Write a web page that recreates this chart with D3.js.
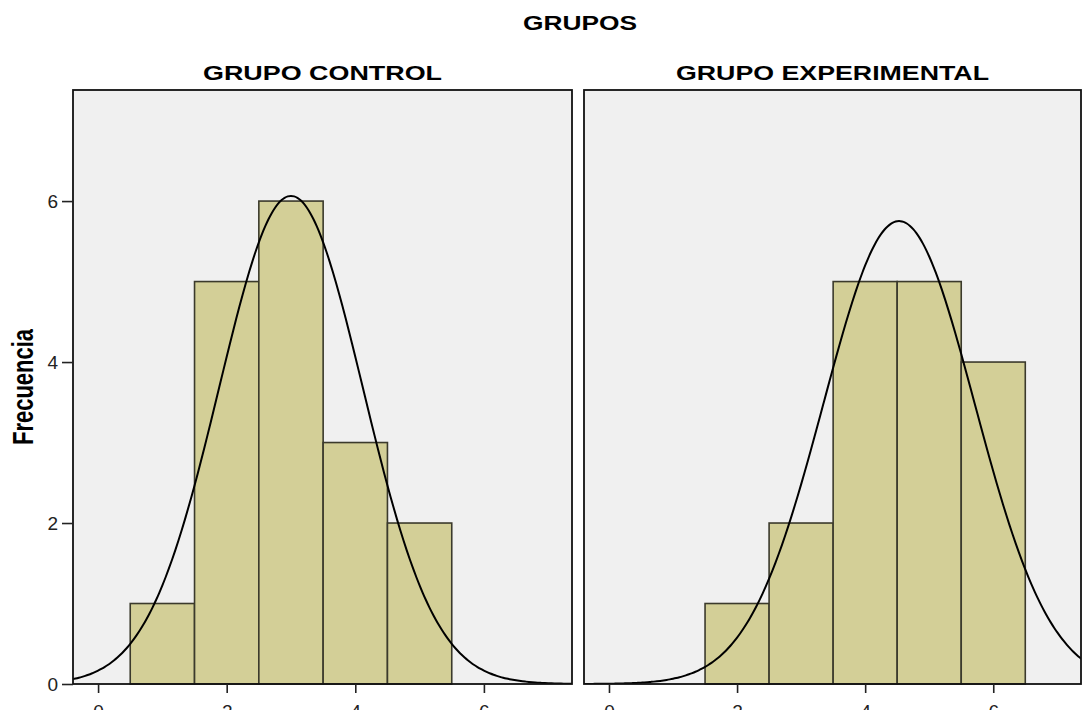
<!DOCTYPE html>
<html>
<head>
<meta charset="utf-8">
<script src="https://cdn.jsdelivr.net/npm/d3@7"></script>
<style>
  body { margin: 0; background: #fff; }
  text { font-family: "Liberation Sans", Arial, sans-serif; }
</style>
</head>
<body>
<div id="chart"></div>
<script>
// histogram data (bin centre -> frequency)
let groupNames = ["GRUPO CONTROL", "GRUPO EXPERIMENTAL"];
let controlBins = [1, 2, 3, 4, 5];
let controlCounts = [1, 5, 6, 3, 2];
let experimentalBins = [2, 3, 4, 5, 6];
let experimentalCounts = [1, 2, 5, 5, 4];
let xTicks = [0, 2, 4, 6];
let yTicks = [0, 2, 4, 6];

let width = 1082, height = 710;

let panels = [
  { name: groupNames[0], bins: controlBins, counts: controlCounts, left: 73, right: 572 },
  { name: groupNames[1], bins: experimentalBins, counts: experimentalCounts, left: 584, right: 1081 }
];

let plotTop = 90, plotBottom = 684;

let svg = d3.select("#chart")
  .append("svg")
  .attr("width", width)
  .attr("height", height);

let y = d3.scaleLinear()
  .domain([0, 7.38])
  .range([plotBottom, plotTop]);

svg.append("text")
  .attr("x", 580)
  .attr("y", 30)
  .attr("text-anchor", "middle")
  .attr("textLength", 114)
  .attr("lengthAdjust", "spacingAndGlyphs")
  .style("font-size", "21px")
  .style("font-weight", "bold")
  .text("GRUPOS");

// y label, stretched like the rest of the picture
svg.append("text")
  .attr("transform", "translate(33," + ((plotTop + plotBottom) / 2) + ") scale(1.3,1) rotate(-90)")
  .attr("text-anchor", "middle")
  .style("font-size", "22px")
  .style("font-weight", "bold")
  .text("Frecuencia");

panels.forEach(function(p, i) {
  let x = d3.scaleLinear()
    .domain([-0.39, 7.37])
    .range([p.left, p.right]);

  let g = svg.append("g");

  g.append("rect")
    .attr("x", p.left)
    .attr("y", plotTop)
    .attr("width", p.right - p.left)
    .attr("height", plotBottom - plotTop)
    .style("fill", "#f0f0f0");

  let clipId = "clip" + i;
  g.append("clipPath").attr("id", clipId)
    .append("rect")
    .attr("x", p.left)
    .attr("y", plotTop)
    .attr("width", p.right - p.left)
    .attr("height", plotBottom - plotTop);

  let data = p.bins.map((b, k) => ({ bin: b, count: p.counts[k] }));

  g.selectAll(".bar")
    .data(data)
    .enter()
    .append("rect")
    .attr("class", "bar")
    .attr("x", d => x(d.bin - 0.5))
    .attr("width", d => x(d.bin + 0.5) - x(d.bin - 0.5))
    .attr("y", d => y(d.count))
    .attr("height", d => y(0) - y(d.count))
    .style("fill", "#d3cf97")
    .style("stroke", "#3b3a2c")
    .style("stroke-width", 1.6);

  // fitted normal curve from the histogram's mean and sd
  let values = [];
  data.forEach(d => { for (let k = 0; k < d.count; k++) values.push(d.bin); });
  let n = values.length;
  let mean = d3.mean(values);
  let sd = d3.deviation(values);
  let pdf = t => n * Math.exp(-0.5 * Math.pow((t - mean) / sd, 2)) / (sd * Math.sqrt(2 * Math.PI));

  let line = d3.line()
    .x(t => x(t))
    .y(t => y(pdf(t)))
    .curve(d3.curveBasis);

  g.append("path")
    .datum(d3.range(-0.5, 7.5, 0.05))
    .attr("d", line)
    .attr("clip-path", "url(#" + clipId + ")")
    .style("fill", "none")
    .style("stroke", "#000")
    .style("stroke-width", 2);

  g.append("rect")
    .attr("x", p.left)
    .attr("y", plotTop)
    .attr("width", p.right - p.left)
    .attr("height", plotBottom - plotTop)
    .style("fill", "none")
    .style("stroke", "#111")
    .style("stroke-width", 1.8);

  let xAxis = g.append("g")
    .attr("transform", "translate(0," + plotBottom + ")")
    .call(d3.axisBottom(x).tickValues(xTicks).tickSize(9).tickPadding(12).tickFormat(d3.format("d")));
  xAxis.select(".domain").remove();
  xAxis.selectAll(".tick line").style("stroke", "#222").style("stroke-width", 1.6);
  xAxis.selectAll(".tick text")
    .style("font-size", "19px")
    .style("font-family", "'Liberation Sans', Arial, sans-serif")
    .style("fill", "#222");

  if (i === 0) {
    let yAxis = g.append("g")
      .attr("transform", "translate(" + p.left + ",0)")
      .call(d3.axisLeft(y).tickValues(yTicks).tickSize(11).tickPadding(4).tickFormat(d3.format("d")));
    yAxis.select(".domain").remove();
    yAxis.selectAll(".tick line").style("stroke", "#222").style("stroke-width", 1.6);
    yAxis.selectAll(".tick text")
      .style("font-size", "19px")
      .style("font-family", "'Liberation Sans', Arial, sans-serif")
      .style("fill", "#222");
  }

  let titleW = i === 0 ? 239 : 313;
  g.append("text")
    .attr("x", (p.left + p.right) / 2)
    .attr("y", 80)
    .attr("text-anchor", "middle")
    .attr("textLength", titleW)
    .attr("lengthAdjust", "spacingAndGlyphs")
    .style("font-size", "21px")
    .style("font-weight", "bold")
    .text(p.name);
});
</script>
</body>
</html>
